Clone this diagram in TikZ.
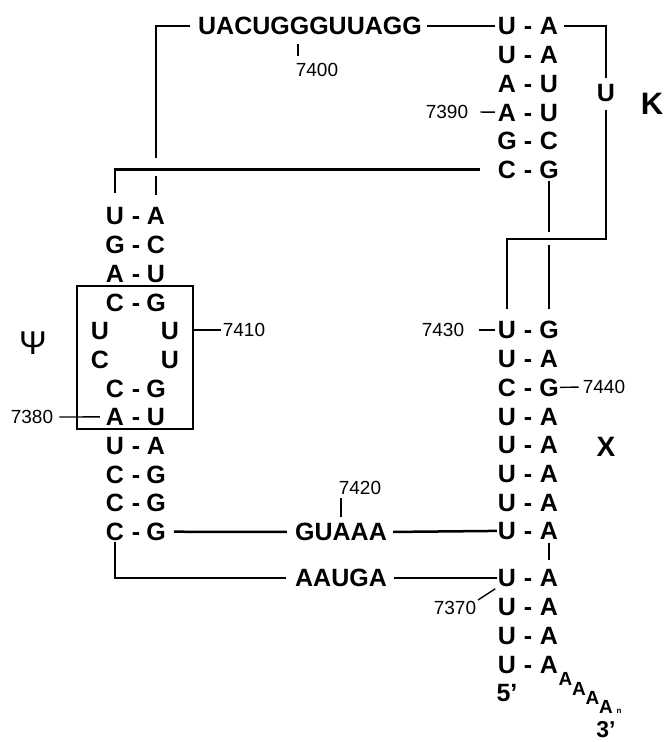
\documentclass[tikz,border=0pt]{standalone}
\usepackage{fontspec}
\setmainfont{Liberation Sans}

\begin{document}
\begin{tikzpicture}[x=1pt, y=-1pt,
    nt/.style={font=\bfseries\fontsize{25}{25}\selectfont, inner sep=0pt, text height=17.9pt, text depth=0pt},
    ntsmall/.style={font=\bfseries\fontsize{19}{19}\selectfont, inner sep=0pt},
    num/.style={font=\fontsize{19}{19}\selectfont, inner sep=0pt},
    strand/.style={line width=2.5pt},
    tick/.style={line width=1.4pt}]

    \useasboundingbox (0,0) rectangle (666,742);

    % K stem
    \foreach \l/\r [count=\i] in {U/A,U/A,A/U,A/U,G/C,C/G} {
        \node[nt] (kl\i) at (507,{26+28.7*(\i-1)}) {\l};
        \node[nt] (kd\i) at (528,{26+28.7*(\i-1)}) {-};
        \node[nt] (kr\i) at (549,{26+28.7*(\i-1)}) {\r};
    }

    % Psi stem
    \foreach \i/\l/\r in {1/U/A,2/G/C,3/A/U,4/C/G,7/C/G,8/A/U,9/U/A,10/C/G,11/C/G,12/C/G} {
        \node[nt] (pl\i) at (115,{216+28.7*(\i-1)}) {\l};
        \node[nt] (pd\i) at (136,{216+28.7*(\i-1)}) {-};
        \node[nt] (pr\i) at (156,{216+28.7*(\i-1)}) {\r};
    }
    \node[nt] (pl5) at (100,330.8) {U};
    \node[nt] (pr5) at (170,330.8) {U};
    \node[nt] (pl6) at (100,359.5) {C};
    \node[nt] (pr6) at (170,359.5) {U};
    \node[draw, line width=2pt, minimum width=116pt, minimum height=143pt, inner sep=0pt] (box) at (135,357.5) {};

    % X stem
    \foreach \l/\r [count=\i] in {U/G,U/A,C/G,U/A,U/A,U/A,U/A,U/A} {
        \node[nt] (xl\i) at (507,{330+28.7*(\i-1)}) {\l};
        \node[nt] (xd\i) at (528,{330+28.7*(\i-1)}) {-};
        \node[nt] (xr\i) at (549,{330+28.7*(\i-1)}) {\r};
    }
    \foreach \i in {9,...,12} {
        \node[nt] (xl\i) at (507,{578+28.7*(\i-9)}) {U};
        \node[nt] (xd\i) at (528,{578+28.7*(\i-9)}) {-};
        \node[nt] (xr\i) at (549,{578+28.7*(\i-9)}) {A};
    }

    % single strands
    \node[nt] (top) at (310,26) {UACUGGGUUAGG};
    \node[nt] (uk) at (606,93) {U};
    \node[nt] (guaaa) at (341,532) {GUAAA};
    \node[nt] (aauga) at (341,578) {AAUGA};
    \node[nt] (five) at (507,693) {5’};
    \foreach \i in {1,...,4}
        \node[ntsmall] (tail\i) at ({552+13.5*\i},{670+9.3*\i}) {A};
    \node[font=\bfseries\fontsize{8}{8}\selectfont, inner sep=0pt] (tailn) at (619,711) {n};
    \node[font=\bfseries\fontsize{23}{23}\selectfont, inner sep=0pt] (three) at (606,730) {3’};

    % stem names
    \node[font=\fontsize{33}{33}\selectfont, inner sep=0pt] (psi) at (33,343) {Ψ};
    \node[font=\bfseries\fontsize{31}{31}\selectfont, inner sep=0pt] (knot) at (652,104) {K};
    \node[font=\bfseries\fontsize{28}{28}\selectfont, inner sep=0pt] (xname) at (606,447) {X};

    % numbering
    \node[num] (n7400) at (317,70) {7400};
    \node[num] (n7390) at (447,112) {7390};
    \node[num] (n7410) at (244,330) {7410};
    \node[num] (n7380) at (32,417) {7380};
    \node[num] (n7430) at (443,330) {7430};
    \node[num] (n7440) at (604,387) {7440};
    \node[num] (n7420) at (360,488) {7420};
    \node[num] (n7370) at (455,608) {7370};

    \coordinate (lcross) at (pr1 |- kl6);
    \coordinate (xjoin) at (507,239);
    \coordinate (xcross) at (549,239);

    % backbone
    \draw[strand, shorten <=8pt, shorten >=12pt] (top.west) -| (lcross);
    \draw[strand, shorten <=6pt, shorten >=12pt] (lcross) -- (pr1.north);
    \draw[strand, shorten <=5pt, shorten >=3pt] (top.east) -- (kl1.west);
    \draw[strand, shorten <=6pt, shorten >=6pt] (kr1.east) -| (uk.north);
    \draw[strand, shorten <=8pt, shorten >=12pt] (uk.south) |- (xjoin) -- (xl1.north);
    \draw[strand, shorten <=2pt, shorten >=7pt] (kr6.south) -- (xcross);
    \draw[strand, shorten <=6pt, shorten >=12pt] (xcross) -- (xr1.north);
    \draw[strand, shorten <=18pt, shorten >=14pt] (kl6.west) -| (pl1.north);
    \draw[strand, shorten <=8pt, shorten >=8pt] (pr12.east) -- (guaaa.west);
    \draw[strand, shorten <=6pt, shorten >=1pt] (guaaa.east) -- (xl8.west);
    \draw[strand, shorten <=1pt, shorten >=9pt] (pl12.south) |- (aauga.west);
    \draw[strand, shorten <=7pt, shorten >=1pt] (aauga.east) -- (xl9.west);
    \draw[strand, shorten <=3pt, shorten >=9pt] (xr8.south) -- (xr9.north);

    % number ticks
    \draw[tick] ([yshift=-9pt]top.south -| 298,0) -- ++(0,12);
    \draw[tick, shorten <=3pt, shorten >=12pt] (kl4.west) -- (n7390.east);
    \draw[tick, shorten >=2pt] (box.east |- n7410) -- (n7410.west);
    \draw[tick, shorten <=6pt, shorten >=6pt] (n7380.east) -- (pl8.west);
    \draw[tick, shorten <=15pt, shorten >=3pt] (n7430.east) -- (xl1.west);
    \draw[tick, shorten <=1pt, shorten >=4pt] (xr3.east) -- (n7440.west);
    \draw[tick] ([yshift=6pt]guaaa.north) -- ++(0,-19);
    \draw[tick, shorten <=2pt, shorten >=3pt] (n7370.north east) -- (xl9.south west);

\end{tikzpicture}
\end{document}
